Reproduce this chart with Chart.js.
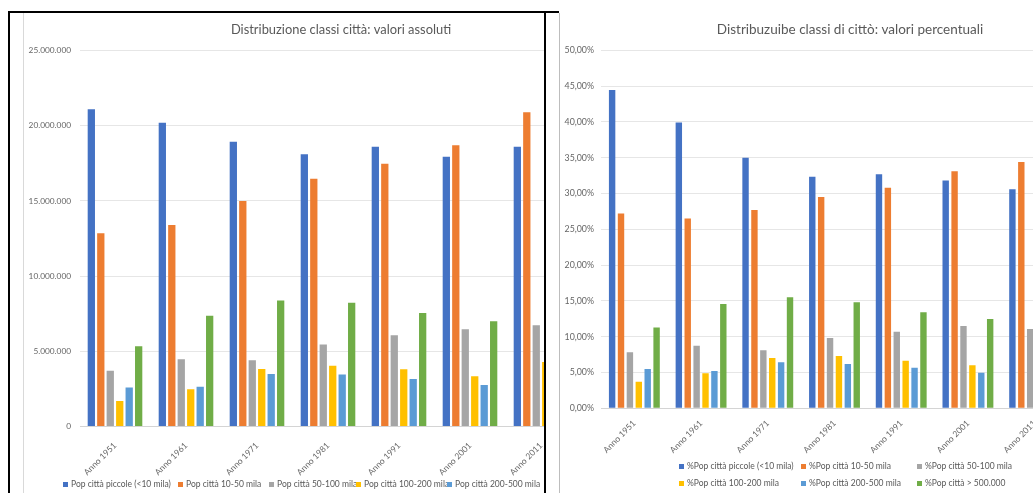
<!DOCTYPE html>
<html lang="it">
<head>
<meta charset="utf-8">
<title>Distribuzione classi città</title>
<script src="https://cdn.jsdelivr.net/npm/chart.js@4/dist/chart.umd.min.js"></script>
<style>
  html, body { margin: 0; padding: 0; background: #fff; }
  body { width: 1033px; height: 493px; position: relative; overflow: hidden; font-family: Lato, "Open Sans", sans-serif; }
  .panel { position: absolute; overflow: hidden; background: #fff; }
  .panel canvas { position: absolute; top: 0; }
  .rule { position: absolute; }
  .legend { position: absolute; left: 0; top: 0; color: #595959; white-space: nowrap; }
  .item { position: absolute; height: 10px; line-height: 10px; display: flex; align-items: center; }
  .swatch { display: inline-block; width: 5px; height: 5px; margin-right: 3px; }
</style>
</head>
<body>

<div class="panel" style="left:10px; top:13px; width:534px; height:480px;">
  <canvas id="absChart" width="634" height="480" style="left:14px;"></canvas>
  <div class="legend" id="absLegend" style="font-size:8.5px;"></div>
</div>

<div class="panel" style="left:560px; top:13px; width:473px; height:480px;">
  <canvas id="pctChart" width="580" height="480" style="left:0;"></canvas>
  <div class="legend" id="pctLegend" style="font-size:8.5px;"></div>
</div>

<!-- page frame and chart borders -->
<div class="rule" style="left:8px; top:11px; width:551px; height:2px; background:#000;"></div>
<div class="rule" style="left:8px; top:11px; width:2px; height:482px; background:#000;"></div>
<div class="rule" style="left:544px; top:11px; width:2px; height:482px; background:#000;"></div>
<div class="rule" style="left:23px; top:13px; width:1px; height:480px; background:#d9d9d9;"></div>
<div class="rule" style="left:559px; top:13px; width:1px; height:480px; background:#bdbdbd;"></div>

<script>
// Census years
const years = ['Anno 1951', 'Anno 1961', 'Anno 1971', 'Anno 1981', 'Anno 1991', 'Anno 2001', 'Anno 2011'];

// Resident population by town size class (absolute values)
const popSmall   = [21100000, 20200000, 18940000, 18100000, 18600000, 17940000, 18600000];
const pop10to50  = [12850000, 13400000, 14990000, 16480000, 17470000, 18700000, 20890000];
const pop50to100 = [3710000, 4470000, 4400000, 5460000, 6060000, 6460000, 6730000];
const pop100to200 = [1700000, 2470000, 3820000, 4040000, 3800000, 3340000, 4290000];
const pop200to500 = [2600000, 2650000, 3490000, 3450000, 3160000, 2760000, 2850000];
const popOver500 = [5330000, 7370000, 8370000, 8230000, 7550000, 7000000, 7450000];

// Share of population by town size class (%)
const pctSmall   = [44.45, 39.9, 35.0, 32.35, 32.7, 31.8, 30.6];
const pct10to50  = [27.2, 26.5, 27.7, 29.5, 30.8, 33.1, 34.4];
const pct50to100 = [7.82, 8.75, 8.1, 9.82, 10.7, 11.5, 11.07];
const pct100to200 = [3.72, 4.89, 7.03, 7.3, 6.65, 6.0, 7.05];
const pct200to500 = [5.49, 5.2, 6.42, 6.19, 5.67, 4.97, 4.7];
const pctOver500 = [11.3, 14.57, 15.5, 14.8, 13.4, 12.47, 12.2];

// Series names
const absNames = ['Pop città piccole (<10 mila)', 'Pop città 10-50 mila', 'Pop città 50-100 mila',
                  'Pop città 100-200 mila', 'Pop città 200-500 mila', 'Pop città > 500.000'];
const pctNames = ['%Pop città piccole (<10 mila)', '%Pop città 10-50 mila', '%Pop città 50-100 mila',
                  '%Pop città 100-200 mila', '%Pop città 200-500 mila', '%Pop città > 500.000'];

// Axis tick labels
const absTickLabels = ['0', '5.000.000', '10.000.000', '15.000.000', '20.000.000', '25.000.000'];
const pctTickLabels = ['0,00%', '5,00%', '10,00%', '15,00%', '20,00%', '25,00%', '30,00%', '35,00%', '40,00%', '45,00%', '50,00%'];

// Office palette
const palette = ['#4472C4', '#ED7D31', '#A5A5A5', '#FFC000', '#5B9BD5', '#70AD47'];
const FONT = 'Lato, "Open Sans", sans-serif';

function makeChart(canvasId, cfg) {
  return new Chart(document.getElementById(canvasId), {
    type: 'bar',
    data: {
      labels: years,
      datasets: cfg.series.map((values, i) => ({
        label: cfg.names[i],
        data: values,
        backgroundColor: palette[i],
        borderWidth: 0,
        categoryPercentage: 0.8,
        barPercentage: cfg.barPct
      }))
    },
    options: {
      responsive: false,
      animation: false,
      devicePixelRatio: 1,
      layout: { padding: { left: 0, right: 0, top: 0, bottom: cfg.padBottom } },
      plugins: {
        legend: { display: false },
        tooltip: { enabled: false },
        title: {
          display: true,
          text: cfg.title,
          color: '#595959',
          font: { family: FONT, size: cfg.titleSize, weight: 'normal', lineHeight: 1.2 },
          padding: { top: cfg.titleTop, bottom: cfg.titleBottom }
        }
      },
      scales: {
        x: {
          grid: { display: false, drawTicks: false },
          border: { display: false },
          ticks: {
            color: '#666', font: { family: FONT, size: cfg.xFont },
            minRotation: 45, maxRotation: 45, autoSkip: false, padding: cfg.xPad
          },
          afterFit: s => { s.height = cfg.xHeight; }
        },
        y: {
          min: 0, max: cfg.max,
          grid: {
            drawTicks: false,
            color: c => (c.tick && c.tick.value === 0 ? '#d4d4d4' : '#e6e6e6')
          },
          border: { display: false },
          ticks: {
            stepSize: cfg.step, padding: cfg.tickPad, color: '#666',
            font: { family: FONT, size: cfg.yFont },
            callback: (v, i) => cfg.tickLabels[i]
          },
          afterFit: s => { s.width = cfg.yWidth; }
        },
        gap: {
          type: 'linear', axis: 'y', position: 'right', display: true,
          grid: { display: false }, border: { display: false }, ticks: { display: false },
          afterFit: s => { s.width = cfg.rightGap; }
        }
      }
    }
  });
}

function buildLegend(elId, names, spots) {
  const box = document.getElementById(elId);
  names.forEach((name, i) => {
    const item = document.createElement('div');
    item.className = 'item';
    item.style.left = spots[i][0] + 'px';
    item.style.top = spots[i][1] + 'px';
    const sw = document.createElement('span');
    sw.className = 'swatch';
    sw.style.background = palette[i];
    const tx = document.createElement('span');
    tx.textContent = name;
    item.appendChild(sw);
    item.appendChild(tx);
    box.appendChild(item);
  });
}

makeChart('absChart', {
  title: 'Distribuzione classi città: valori assoluti',
  series: [popSmall, pop10to50, pop50to100, pop100to200, pop200to500, popOver500],
  names: absNames,
  max: 25000000, step: 5000000, tickLabels: absTickLabels,
  barPct: 0.77, yWidth: 55.5, tickPad: 8.5, rightGap: 81.5, yFont: 8.3,
  titleSize: 12.9, titleTop: 9.3, titleBottom: 12.7,
  xFont: 8.5, xPad: 14, xHeight: 62, padBottom: 4.5
});

makeChart('pctChart', {
  title: 'Distribuzuibe classi di cittò: valori percentuali',
  series: [pctSmall, pct10to50, pct50to100, pct100to200, pct200to500, pctOver500],
  names: pctNames,
  max: 50, step: 5, tickLabels: pctTickLabels,
  barPct: 0.72, yWidth: 41, tickPad: 7, rightGap: 72, yFont: 8.8,
  titleSize: 13.5, titleTop: 8.9, titleBottom: 12.2,
  xFont: 8.5, xPad: 10, xHeight: 62, padBottom: 22.7
});

buildLegend('absLegend', absNames, [[53, 466], [168, 466], [259, 466], [346, 466], [437, 466], [545, 466]]);
buildLegend('pctLegend', pctNames, [[119, 448], [241, 448], [357, 448], [119, 465], [241, 465], [357, 465]]);
</script>
</body>
</html>
